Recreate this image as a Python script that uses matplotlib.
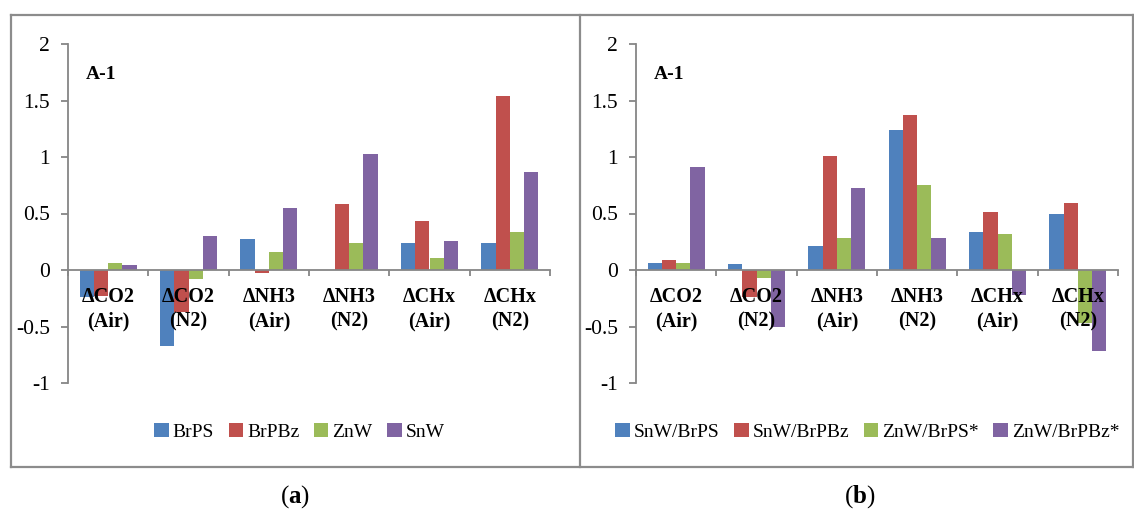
import matplotlib.pyplot as plt
import numpy as np
from matplotlib.lines import Line2D
from matplotlib.ticker import FixedLocator, FuncFormatter

plt.rcParams["font.family"] = ["Liberation Serif", "DejaVu Serif"]
plt.rcParams["mathtext.fontset"] = "custom"
plt.rcParams["mathtext.rm"] = "Liberation Serif"
plt.rcParams["mathtext.bf"] = "Liberation Serif:bold"

categories = ["ΔCO2\n(Air)", "ΔCO2\n(N2)", "ΔNH3\n(Air)", "ΔNH3\n(N2)", "ΔCHx\n(Air)", "ΔCHx\n(N2)"]

# panel (a): single catalysts
series_a = ["BrPS", "BrPBz", "ZnW", "SnW"]
brps = [-0.24, -0.67, 0.27, 0.0, 0.24, 0.24]
brpbz = [-0.23, -0.37, -0.03, 0.58, 0.43, 1.54]
znw = [0.06, -0.08, 0.16, 0.24, 0.11, 0.34]
snw = [0.04, 0.30, 0.55, 1.03, 0.26, 0.87]

# panel (b): combined catalysts
series_b = ["SnW/BrPS", "SnW/BrPBz", "ZnW/BrPS*", "ZnW/BrPBz*"]
snw_brps = [0.06, 0.05, 0.21, 1.24, 0.34, 0.50]
snw_brpbz = [0.09, -0.24, 1.01, 1.37, 0.51, 0.59]
znw_brps = [0.06, -0.07, 0.28, 0.75, 0.32, -0.47]
znw_brpbz = [0.91, -0.50, 0.73, 0.28, -0.22, -0.72]

COLORS = ["#4F81BD", "#C0504D", "#9BBB59", "#8064A2"]
AXIS = "#868686"
W, H = 1134, 521


def bar_panel(ax, names, data):
    x = np.arange(len(categories)) + 0.5
    w = 0.178
    for i, (name, vals) in enumerate(zip(names, data)):
        ax.bar(x + (i - 1.5) * w, vals, width=w, color=COLORS[i], label=name, zorder=1)

    ax.set_xlim(0, 6)
    ax.set_ylim(-1, 2)
    for s in ["top", "right"]:
        ax.spines[s].set_visible(False)
    ax.spines["bottom"].set_position(("data", 0))
    ax.spines["bottom"].set_zorder(3)
    for s in ["left", "bottom"]:
        ax.spines[s].set_color(AXIS)
        ax.spines[s].set_linewidth(1.3)

    # category names sit on top of the bars, like the Excel original
    ax.xaxis.set_zorder(5)
    ax.xaxis.set_major_locator(FixedLocator(np.arange(7)))
    ax.xaxis.set_major_formatter(FuncFormatter(lambda v, p: ""))
    ax.xaxis.set_minor_locator(FixedLocator(x))
    ax.set_xticklabels(categories, minor=True, fontsize=14.5, fontweight="bold",
                       linespacing=1.35)
    ax.tick_params(axis="x", which="major", direction="out", length=4, width=1.3, color=AXIS)
    ax.tick_params(axis="x", which="minor", length=0, pad=12)

    ax.set_yticks(np.arange(-1, 2.01, 0.5))
    ax.yaxis.set_major_formatter(FuncFormatter(lambda v, p: f"{v:g}".replace("−", "-")))
    ax.tick_params(axis="y", direction="out", length=5, width=1.3, color=AXIS,
                   labelsize=15.5, pad=8)

    ax.text(0.037, 0.91, "A-1", transform=ax.transAxes, fontsize=14, fontweight="bold",
            va="center", ha="left")

    ax.legend(loc="center", bbox_to_anchor=(0.48, -0.145), ncol=4, frameon=False,
              fontsize=14, handlelength=0.75, handleheight=0.75, handletextpad=0.2,
              columnspacing=0.75, borderaxespad=0)


fig = plt.figure(figsize=(W / 100, H / 100), dpi=100)
bottom = 1 - 383 / H
height = (383 - 44) / H
ax_a = fig.add_axes([68 / W, bottom, 482 / W, height])
ax_b = fig.add_axes([636 / W, bottom, 482 / W, height])

bar_panel(ax_a, series_a, [brps, brpbz, znw, snw])
bar_panel(ax_b, series_b, [snw_brps, snw_brpbz, znw_brps, znw_brpbz])

# outer frame around both panels
frame = dict(color="#8C8C8C", lw=1.6, transform=fig.transFigure)
x0, x1, xm = 11 / W, 1133 / W, 580 / W
y0, y1 = 1 - 467 / H, 1 - 15 / H
fig.add_artist(Line2D([x0, x1], [y1, y1], **frame))
fig.add_artist(Line2D([x0, x1], [y0, y0], **frame))
fig.add_artist(Line2D([x0, x0], [y0, y1], **frame))
fig.add_artist(Line2D([xm, xm], [y0, y1], **frame))
fig.add_artist(Line2D([x1, x1], [y0, y1], **frame))

fig.text(295 / W, 1 - 497 / H, r"($\mathbf{a}$)", fontsize=18, ha="center", va="center")
fig.text(860 / W, 1 - 497 / H, r"($\mathbf{b}$)", fontsize=18, ha="center", va="center")

fig.savefig("out.png", dpi=100)
